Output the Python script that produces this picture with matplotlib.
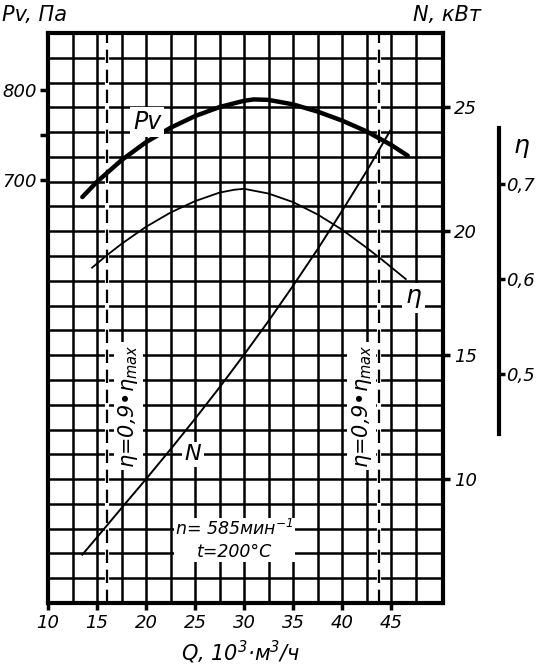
import numpy as np
import matplotlib
matplotlib.use('Agg')
import matplotlib.pyplot as plt

# --- данные ---
q_pv = [13.5, 15, 17.5, 20, 22.5, 25, 27.5, 30, 31, 32.5, 35, 37.5, 40, 42.5, 45, 46.7]
pv = [681, 698, 722, 742, 758, 771, 781, 788, 789.5, 789, 784, 776, 766, 754, 739, 727]

q_eta = [14.5, 16, 17.5, 20, 22.5, 25, 27.5, 29, 30, 32.5, 35, 37.5, 40, 42.5, 44, 46.5]
eta = [0.612, 0.625, 0.637, 0.655, 0.670, 0.682, 0.691, 0.694, 0.695, 0.690, 0.681,
       0.668, 0.652, 0.633, 0.621, 0.600]

q_n = [13.5, 15, 17.5, 20, 22.5, 25, 27.5, 30, 32.5, 35, 37.5, 40, 42.5, 44.9]
n_kw = [6.95, 7.65, 8.83, 10.0, 11.2, 12.43, 13.7, 15.02, 16.38, 17.8, 19.27, 20.82, 22.42, 24.05]

q_eta_lim = [16.0, 43.8]   # границы eta = 0,9 eta_max

q_ticks = [10, 15, 20, 25, 30, 35, 40, 45]
n_ticks = [10, 15, 20, 25]
pv_ticks = [700, 750, 800]
pv_labels = ['700', '', '800']
eta_ticks = [0.5, 0.6, 0.7]
eta_labels = ['0,5', '0,6', '0,7']

plt.rcParams['font.family'] = ['DejaVu Sans']
plt.rcParams['font.style'] = 'italic'
plt.rcParams['mathtext.fontset'] = 'dejavusans'
plt.rcParams['mathtext.default'] = 'it'

W, H = 540, 670
fig = plt.figure(figsize=(W / 100, H / 100), dpi=100)
ax = fig.add_axes([48 / W, 67 / H, 395 / W, 570 / H])

# ось давления слева
ax_p = ax.twinx()
# ось КПД справа
ax_e = ax.twinx()

# основная ось: Q и N
ax.set_xlim(10, 50.3)
ax.set_ylim(5, 28)
ax.set_xticks(q_ticks)
ax.set_xticklabels([str(t) for t in q_ticks])
ax.set_xticks(np.arange(12.5, 50, 2.5), minor=True)
ax.yaxis.tick_right()
ax.set_yticks(n_ticks)
ax.set_yticklabels([str(t) for t in n_ticks])
ax.set_yticks(np.arange(6, 28, 1), minor=True)
ax.set_axisbelow(True)
ax.grid(True, which='both', color='black', lw=1.8)
ax.tick_params(which='major', length=5, width=2.5, labelsize=13, pad=3)
ax.tick_params(which='minor', length=0)
for s in ax.spines.values():
    s.set_linewidth(3)

ax.plot(q_n, n_kw, color='black', lw=1.4, zorder=3)

for q in q_eta_lim:
    ax.axvline(q, color='white', lw=3, zorder=2)
    ax.axvline(q, color='black', lw=1.6, ls=(0, (6, 3)), zorder=2)

ax_p.set_ylim(230, 863.3)
ax_p.yaxis.tick_left()
ax_p.set_yticks(pv_ticks)
ax_p.set_yticklabels(pv_labels)
ax_p.tick_params(length=6, width=2.5, labelsize=13, pad=2)
for s in ax_p.spines.values():
    s.set_visible(False)
ax_p.plot(q_pv, pv, color='black', lw=3.2, solid_capstyle='round')

ax_e.set_ylim(0.259, 0.859)
for k in ['top', 'bottom', 'left']:
    ax_e.spines[k].set_visible(False)
ax_e.spines['right'].set_position(('axes', (499 - 48) / 395))
ax_e.spines['right'].set_bounds(0.437, 0.759)
ax_e.spines['right'].set_linewidth(3)
ax_e.set_yticks(eta_ticks)
ax_e.set_yticklabels(eta_labels)
ax_e.tick_params(length=4, width=2.5, labelsize=13, pad=1)
ax_e.plot(q_eta, eta, color='black', lw=1.3)

box = dict(facecolor='white', edgecolor='none', pad=2)
ax_e.text(20.1, 24.4, 'Pv', transform=ax.transData, fontsize=17,
          ha='center', va='center', bbox=box)
ax_e.text(47.3, 17.3, r'$\eta$', transform=ax.transData, fontsize=18,
          ha='center', va='center', bbox=box)
ax_e.text(24.8, 11.0, 'N', transform=ax.transData, fontsize=16,
          ha='center', va='center', bbox=box)
ax_e.text(29.0, 7.55, 'n= 585мин$^{-1}$\nt=200°C', transform=ax.transData,
          fontsize=12.5, ha='center', va='center', linespacing=1.25,
          bbox=dict(facecolor='white', edgecolor='none', pad=1))
lab = r'$\eta$=0,9•$\eta_{max}$'
ax_e.text(18.2, 12.95, lab, transform=ax.transData, fontsize=15, rotation=90,
          ha='center', va='center', bbox=box)
ax_e.text(42.0, 12.95, lab, transform=ax.transData, fontsize=15, rotation=90,
          ha='center', va='center', bbox=box)

# подписи осей
fig.text(2 / W, 1 - 15 / H, 'Pv, Па', fontsize=15, ha='left', va='center')
fig.text(481 / W, 1 - 15 / H, 'N, кВт', fontsize=15, ha='right', va='center')
fig.text(522 / W, 1 - 148 / H, r'$\eta$', fontsize=18, ha='center', va='center')
fig.text(241 / W, 1 - 652 / H, 'Q, 10$^{3}$·м$^{3}$/ч', fontsize=15,
         ha='center', va='center')

fig.savefig('out.png', dpi=100)
